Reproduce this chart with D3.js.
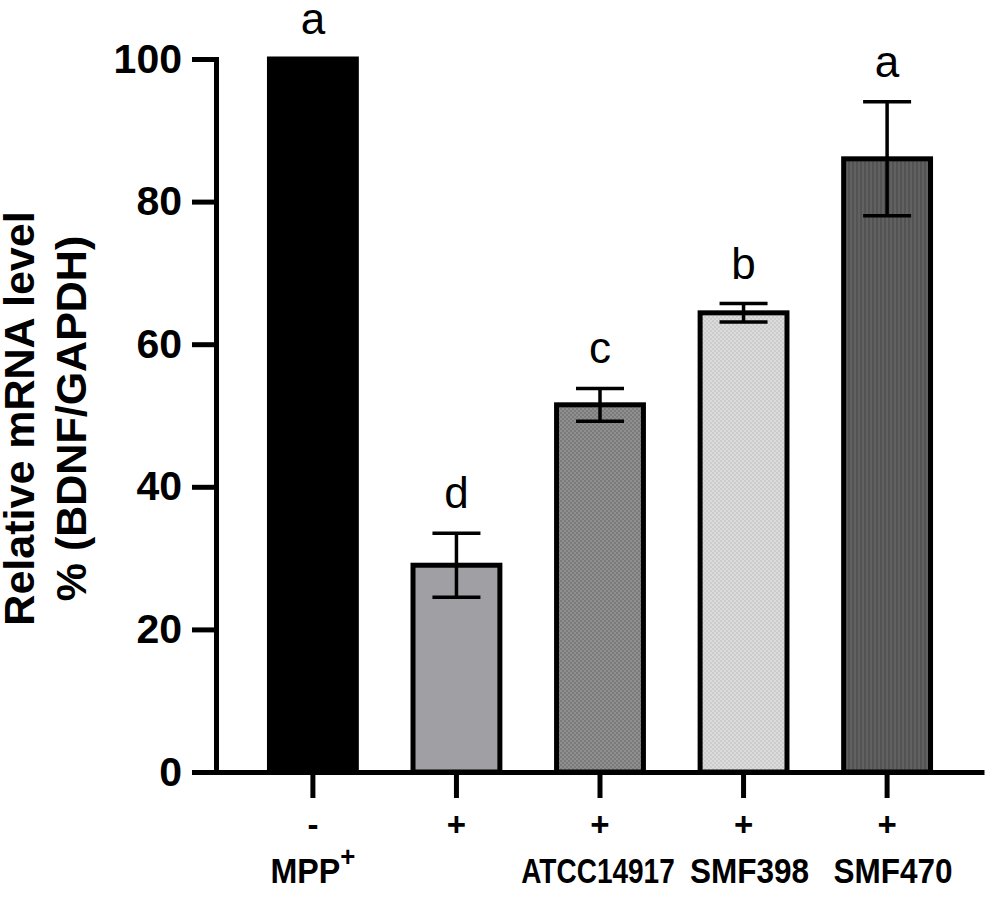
<!DOCTYPE html>
<html>
<head>
<meta charset="utf-8">
<script src="https://cdn.jsdelivr.net/npm/d3@7"></script>
<style>
  html, body { margin: 0; padding: 0; background: #fff; }
  svg { display: block; }
  text { font-family: "Liberation Sans", Arial, sans-serif; fill: #000; }
  .narrow { font-family: "Liberation Sans", Arial, sans-serif; font-weight: bold; }
</style>
</head>
<body>
<svg id="chart" width="1000" height="903"></svg>
<script>
// values (% of control, mean and SD)
const groups = [0, 1, 2, 3, 4];
const mppSigns = ["-", "+", "+", "+", "+"];
const strains = ["", "", "ATCC14917", "SMF398", "SMF470"];
const means = [100, 29, 51.5, 64.4, 86];
const sds = [0, 4.5, 2.3, 1.3, 8];
const letters = ["a", "d", "c", "b", "a"];
const yTicks = [0, 20, 40, 60, 80, 100];

// style only
const barFills = ["#000", "#a0a0a4", "url(#checkMid)", "url(#checkLight)", "url(#stripeDark)"];
const labelSqueeze = [1, 1, 0.8, 0.9, 0.9];
const labelShift = [0, 0, -2, 6, 6];

const svg = d3.select("#chart");
const margin = { top: 59, bottom: 131, left: 216, right: 16 };
const width = +svg.attr("width"), height = +svg.attr("height");

const x = d3.scaleBand().domain(groups).range([margin.left, width - margin.right]).paddingInner(0.36).paddingOuter(0.355);
const y = d3.scaleLinear().domain([0, 100]).range([height - margin.bottom, margin.top]);

// squeeze a text horizontally (no condensed font installed)
function condense(sel, k) {
    sel.each(function (d) {
        const f = typeof k === "function" ? k(d) : k;
        const w = this.getComputedTextLength();
        d3.select(this).attr("textLength", w * f).attr("lengthAdjust", "spacingAndGlyphs");
    });
}

// textures used by the bars
const defs = svg.append("defs");
function checker(id, a, b) {
    const p = defs.append("pattern").attr("id", id).attr("width", 4).attr("height", 4).attr("patternUnits", "userSpaceOnUse");
    p.append("rect").attr("width", 4).attr("height", 4).attr("fill", a);
    p.append("rect").attr("width", 2).attr("height", 2).attr("fill", b);
    p.append("rect").attr("x", 2).attr("y", 2).attr("width", 2).attr("height", 2).attr("fill", b);
}
checker("checkMid", "#8f8f8f", "#7b7b7b");
checker("checkLight", "#dcdcdc", "#cbcbcb");
const st = defs.append("pattern").attr("id", "stripeDark").attr("width", 4).attr("height", 4).attr("patternUnits", "userSpaceOnUse");
st.append("rect").attr("width", 4).attr("height", 4).attr("fill", "#616161");
st.append("rect").attr("width", 2).attr("height", 4).attr("fill", "#535353");

const bw = x.bandwidth();
const sw = 5;

// bars
svg.append("g").selectAll("rect")
    .data(groups)
    .enter().append("rect")
    .attr("x", i => x(i) + sw / 2)
    .attr("y", i => y(means[i]))
    .attr("width", bw - sw)
    .attr("height", i => y(0) - y(means[i]))
    .attr("fill", i => barFills[i])
    .attr("stroke", "#000")
    .attr("stroke-width", sw);

// error bars
const eb = svg.append("g").attr("stroke", "#000").attr("stroke-width", 3.5)
    .selectAll("g").data(groups.filter(i => sds[i] > 0)).enter().append("g");
eb.append("line")
    .attr("x1", i => x(i) + bw / 2).attr("x2", i => x(i) + bw / 2)
    .attr("y1", i => y(means[i] + sds[i])).attr("y2", i => y(means[i] - sds[i]));
eb.append("line")
    .attr("x1", i => x(i) + bw / 2 - 24).attr("x2", i => x(i) + bw / 2 + 24)
    .attr("y1", i => y(means[i] + sds[i])).attr("y2", i => y(means[i] + sds[i]));
eb.append("line")
    .attr("x1", i => x(i) + bw / 2 - 24).attr("x2", i => x(i) + bw / 2 + 24)
    .attr("y1", i => y(means[i] - sds[i])).attr("y2", i => y(means[i] - sds[i]));

// significance letters
svg.append("g").selectAll("text")
    .data(groups)
    .enter().append("text")
    .attr("x", i => x(i) + bw / 2)
    .attr("y", i => y(means[i] + sds[i]) - 25)
    .attr("text-anchor", "middle")
    .style("font-size", "44px")
    .text(i => letters[i]);

// y axis
const yAxis = svg.append("g").attr("transform", `translate(${margin.left},0)`)
    .call(d3.axisLeft(y).tickValues(yTicks).tickSize(24).tickSizeOuter(0).tickPadding(10));
yAxis.select(".domain").attr("stroke-width", sw).attr("stroke-linecap", "square");
yAxis.selectAll(".tick line").attr("stroke-width", sw);
yAxis.selectAll(".tick text").style("font-size", "41px").style("font-weight", "bold")
    .style("font-family", "'Liberation Sans', Arial, sans-serif");

// x axis
const xAxis = svg.append("g").attr("transform", `translate(0,${y(0)})`)
    .call(d3.axisBottom(x).tickSize(26).tickSizeOuter(0).tickFormat(i => mppSigns[i]));
xAxis.select(".domain").attr("stroke-width", sw);
xAxis.selectAll(".tick line").attr("stroke-width", sw);
xAxis.selectAll(".tick text")
    .attr("class", "narrow")
    .attr("y", 64).attr("dy", null)
    .style("font-size", "33px")
    .style("font-family", null);

// strain labels
svg.append("g").selectAll("text")
    .data(groups.filter(i => strains[i]))
    .enter().append("text")
    .attr("class", "narrow")
    .attr("x", i => x(i) + bw / 2 + labelShift[i])
    .attr("y", y(0) + 111)
    .attr("text-anchor", "middle")
    .style("font-size", "35px")
    .text(i => strains[i])
    .call(condense, i => labelSqueeze[i]);

// MPP+ row label under first group
const mpp = svg.append("text")
    .attr("class", "narrow")
    .attr("x", x(0) + bw / 2)
    .attr("y", y(0) + 111)
    .attr("text-anchor", "middle")
    .style("font-size", "35px");
mpp.append("tspan").text("MPP");
mpp.append("tspan").attr("dy", -17).style("font-size", "28px").text("+");
mpp.call(condense, 0.92);

// y title
const yTitle = svg.append("text")
    .attr("transform", `translate(0,${(y(0) + y(100)) / 2 + 3}) rotate(-90)`)
    .attr("text-anchor", "middle")
    .style("font-size", "43px")
    .style("font-weight", "bold");
yTitle.append("tspan").attr("x", 0).attr("y", 34).text("Relative mRNA level");
yTitle.append("tspan").attr("x", 0).attr("y", 86).text("% (BDNF/GAPDH)");
</script>
</body>
</html>
